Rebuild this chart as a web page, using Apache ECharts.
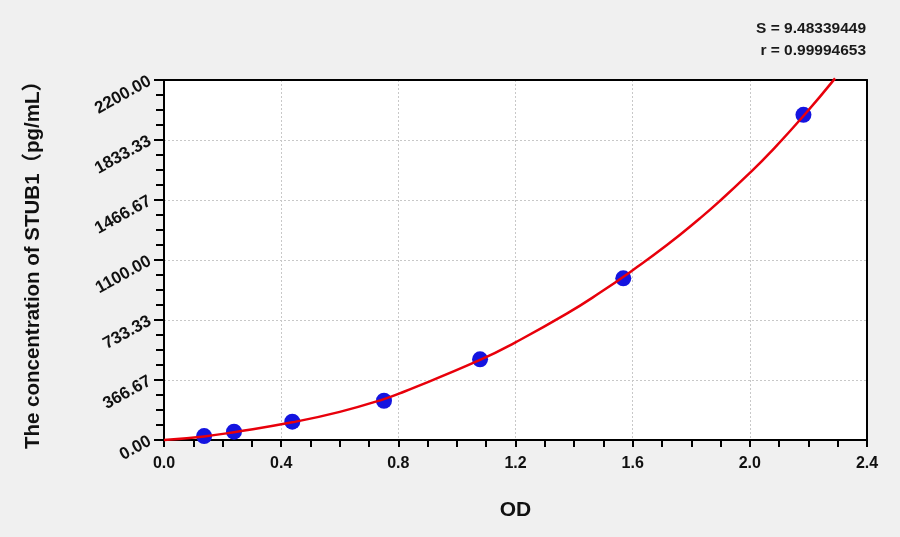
<!DOCTYPE html>
<html>
<head>
<meta charset="utf-8">
<script src="https://cdn.jsdelivr.net/npm/echarts@6/dist/echarts.min.js"></script>
<style>
html,body{margin:0;padding:0;background:#f0f0f0;}
#c{width:900px;height:537px;}
</style>
</head>
<body>
<div id="c"></div>
<script>
// Standard points (OD, concentration)
const pointOD = [0.137, 0.239, 0.438, 0.751, 1.079, 1.568, 2.183];
const pointConc = [24, 51, 112, 240, 493, 988, 1987];
// Fitted curve
const curveOD = [0.0, 0.137, 0.239, 0.438, 0.60, 0.751, 0.819, 1.079, 1.2, 1.375, 1.489, 1.6, 1.717, 1.830, 1.898, 2.0, 2.069, 2.183, 2.291];
const curveConc = [0, 22, 48, 108, 172, 250, 295, 489, 597, 772, 901, 1038, 1191, 1355, 1461, 1632, 1756, 1980, 2210];
const xTicks = [0, 0.4, 0.8, 1.2, 1.6, 2.0, 2.4];
const yTicks = [0, 366.67, 733.33, 1100, 1466.67, 1833.33, 2200];
const statS = 'S = 9.48339449';
const statR = 'r = 0.99994653';

const chart = echarts.init(document.getElementById('c'));
const ff = 'Arial, "Liberation Sans", "Noto Sans CJK SC", sans-serif';
const tickStyle = {color: '#000', width: 2};
chart.setOption({
  backgroundColor: '#f0f0f0',
  animation: false,
  grid: {left: 164, right: 33, top: 80, bottom: 97, show: true, backgroundColor: '#ffffff', borderWidth: 0},
  graphic: [
    {type: 'text', right: 34, top: 21, style: {text: statS, font: 'bold 15.5px ' + ff, fill: '#1a1a1a'}},
    {type: 'text', right: 34, top: 43, style: {text: statR, font: 'bold 15.5px ' + ff, fill: '#1a1a1a'}}
  ],
  xAxis: [{
    type: 'value', min: xTicks[0], max: xTicks[xTicks.length - 1], interval: 0.4,
    name: 'OD', nameLocation: 'middle', nameGap: 60,
    nameTextStyle: {fontFamily: ff, fontWeight: 'bold', fontSize: 21, color: '#111'},
    axisLine: {show: true, onZero: false, lineStyle: tickStyle},
    axisTick: {show: true, length: 7, lineStyle: tickStyle},
    minorTick: {show: true, splitNumber: 4, length: 7, lineStyle: tickStyle},
    axisLabel: {fontFamily: ff, fontWeight: 'bold', fontSize: 16, color: '#111', margin: 16, formatter: v => v.toFixed(1)},
    splitLine: {show: true, lineStyle: {color: '#c8c8c8', type: [2, 2], width: 1}}
  }, {
    type: 'value', position: 'top', min: xTicks[0], max: xTicks[xTicks.length - 1],
    axisLine: {show: true, onZero: false, lineStyle: tickStyle}, axisTick: {show: false}, axisLabel: {show: false}, splitLine: {show: false}
  }],
  yAxis: [{
    type: 'value', min: 0, max: 2200, interval: 2200 / 6,
    name: 'The concentration of STUB1（pg/mL）', nameLocation: 'middle', nameGap: 120,
    nameTextStyle: {fontFamily: ff, fontWeight: 'bold', fontSize: 20.5, color: '#111'},
    axisLine: {show: true, onZero: false, lineStyle: tickStyle},
    axisTick: {show: true, length: 10, lineStyle: tickStyle},
    minorTick: {show: true, splitNumber: 4, length: 8, lineStyle: tickStyle},
    axisLabel: {fontFamily: ff, fontWeight: 'bold', fontSize: 17, color: '#111', rotate: 29, margin: 14,
      formatter: v => {
        let best = yTicks[0];
        yTicks.forEach(t => { if (Math.abs(t - v) < Math.abs(best - v)) best = t; });
        return best.toFixed(2);
      }},
    splitLine: {show: true, lineStyle: {color: '#c8c8c8', type: [2, 2], width: 1}}
  }, {
    type: 'value', position: 'right', min: 0, max: 2200,
    axisLine: {show: true, onZero: false, lineStyle: tickStyle}, axisTick: {show: false}, axisLabel: {show: false}, splitLine: {show: false}
  }],
  series: [
    {
      type: 'line', smooth: true, showSymbol: false, clip: false,
      data: curveOD.map((x, i) => [x, curveConc[i]]),
      lineStyle: {color: '#e8000b', width: 2.5},
      z: 3
    },
    {
      type: 'scatter', symbolSize: 16,
      data: pointOD.map((x, i) => [x, pointConc[i]]),
      itemStyle: {color: '#1414e0', opacity: 1},
      z: 2
    }
  ]
});
</script>
</body>
</html>
